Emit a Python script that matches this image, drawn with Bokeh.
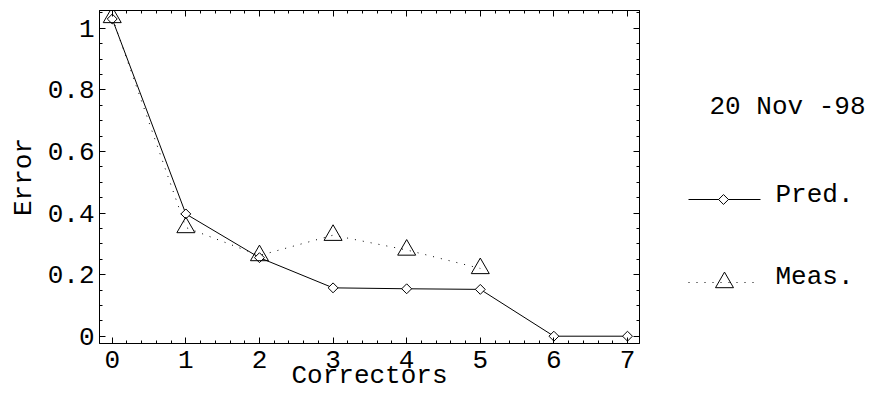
import math
from bokeh.plotting import figure
from bokeh.models import (Range1d, LinearAxis, SingleIntervalTicker, CustomJSTickFormatter,
                          CustomLabelingPolicy)
from bokeh.layouts import row
from bokeh.embed import file_html
from bokeh.resources import INLINE
from bokeh.core.properties import value

# ---- data ----
correctors = [0, 1, 2, 3, 4, 5, 6, 7]
pred = [1.03, 0.397, 0.255, 0.157, 0.154, 0.152, 0.0, 0.0]
meas_x = [0, 1, 2, 3, 4, 5]
meas = [1.035, 0.353, 0.262, 0.328, 0.280, 0.220]
x_label = "Correctors"
y_label = "Error"
date_text = "20 Nov -98"
series_names = ["Pred.", "Meas."]

FONT = "Liberation Mono"
FS = "26px"

p = figure(width=649, height=393,
           x_range=Range1d(-0.173, 7.163), y_range=Range1d(-0.0237, 1.0575),
           output_backend="svg", toolbar_location=None,
           min_border_left=99, min_border_right=10, min_border_top=10, min_border_bottom=50,
           x_axis_label=x_label, y_axis_label=y_label)
p.grid.visible = False
p.outline_line_color = "black"
p.background_fill_color = "white"
p.border_fill_color = "white"

hide_labels = CustomLabelingPolicy(code="""
const ks = Array.from(indices)
for (const k of ks) indices.unset(k)
return indices
""")

def style_axis(ax, ticker, show_labels):
    ax.ticker = ticker
    ax.axis_line_color = "black"
    ax.major_tick_line_color = "black"
    ax.minor_tick_line_color = "black"
    ax.major_tick_in = 6
    ax.major_tick_out = 0
    ax.minor_tick_in = 3
    ax.minor_tick_out = 0
    ax.major_label_text_font = FONT
    ax.major_label_text_color = "black"
    ax.axis_label_text_font = FONT
    ax.axis_label_text_font_size = FS
    ax.axis_label_text_font_style = "normal"
    ax.axis_label_text_color = "black"
    if show_labels:
        ax.major_label_text_font_size = FS
    else:
        ax.major_label_text_font_size = "1px"
        ax.major_label_standoff = 0
        ax.major_label_policy = hide_labels

xt = SingleIntervalTicker(interval=1, num_minor_ticks=5)
yt = SingleIntervalTicker(interval=0.2, num_minor_ticks=4)
yfmt = CustomJSTickFormatter(code="return Number(tick.toFixed(2)).toString()")

style_axis(p.xaxis[0], xt, True)
p.xaxis[0].major_label_standoff = 7
p.xaxis[0].axis_label_standoff = -10
style_axis(p.yaxis[0], yt, True)
p.yaxis[0].formatter = yfmt
p.yaxis[0].major_label_standoff = 5
p.yaxis[0].axis_label_standoff = 6

top = LinearAxis()
style_axis(top, SingleIntervalTicker(interval=1, num_minor_ticks=5), False)
p.add_layout(top, "above")
right = LinearAxis()
style_axis(right, SingleIntervalTicker(interval=0.2, num_minor_ticks=4), False)
p.add_layout(right, "right")

# data marks
p.line(correctors, pred, line_color="black", line_width=1)
p.line(meas_x, meas, line_color="black", line_width=1, line_dash="1 7")
p.scatter(correctors, pred, marker="square", size=7, angle=math.pi / 4,
          line_color="black", fill_color="white", line_width=1)
p.scatter(meas_x, meas, marker="triangle", size=18,
          line_color="black", fill_color=None, line_width=1)

# ---- side panel with date and legend (coordinates = page pixels) ----
s = figure(width=220, height=393, x_range=Range1d(649, 869), y_range=Range1d(343, 10),
           output_backend="svg", toolbar_location=None,
           min_border_left=0, min_border_right=0, min_border_top=10, min_border_bottom=50,
           x_axis_type=None, y_axis_type=None)
s.grid.visible = False
s.outline_line_color = None

s.text(x=[709], y=[106.5], text=[date_text], text_font=value(FONT), text_font_size=FS,
       text_baseline="middle", text_align="left", text_color="black")
# Pred. entry
s.line([688, 760], [199, 199], line_color="black", line_width=1)
s.scatter([723], [199], marker="square", size=7, angle=math.pi / 4,
          line_color="black", fill_color="white")
s.text(x=[775], y=[194.5], text=[series_names[0]], text_font=value(FONT), text_font_size=FS,
       text_baseline="middle", text_align="left", text_color="black")
# Meas. entry
s.line([688, 755], [282, 282], line_color="black", line_width=1, line_dash="1 7")
s.scatter([724], [282], marker="triangle", size=18, line_color="black", fill_color=None)
s.text(x=[775], y=[276], text=[series_names[1]], text_font=value(FONT), text_font_size=FS,
       text_baseline="middle", text_align="left", text_color="black")

layout = row(p, s)
open("out.html", "w").write(file_html(layout, INLINE))
